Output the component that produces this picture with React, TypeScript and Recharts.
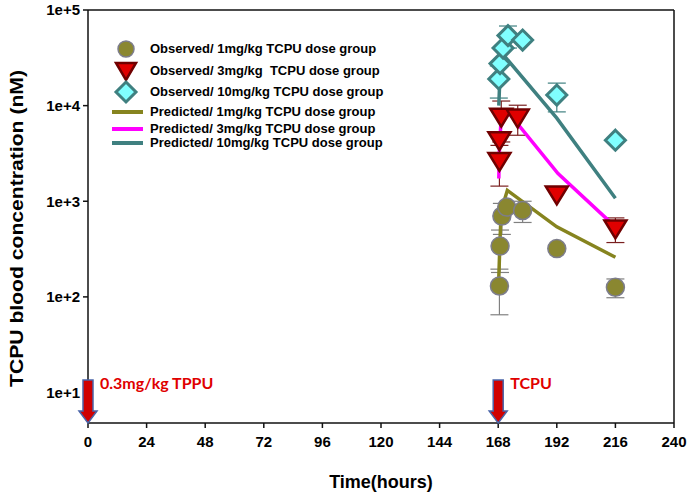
import {
  ComposedChart,
  XAxis,
  YAxis,
  Scatter,
  Line,
  ErrorBar,
  ReferenceLine,
  ReferenceDot,
} from 'recharts';

// axis ticks
const xTicks = [0, 24, 48, 72, 96, 120, 144, 168, 192, 216, 240];
const yTicks = [10, 100, 1000, 10000, 100000];
const yMin = 4.8;

// observed values (nM) with error bars
const obs1Time = [168.5, 168.75, 169.5, 171.5, 178, 192, 216];
const obs1Conc = [130, 340, 700, 870, 800, 320, 126];
const obs1Err = [65, 160, 250, 0, 200, 0, 28];

const obs3Time = [168.5, 168.5, 169.25, 176, 192, 216];
const obs3Conc = [2640, 4350, 7670, 7500, 1180, 520];
const obs3Err = [1200, 0, 3500, 2600, 0, 150];

const obs10Time = [168.25, 168.75, 170, 172, 178, 192, 216];
const obs10Conc = [19000, 27500, 40000, 54000, 48500, 12900, 4350];
const obs10Err = [7000, 0, 0, 14000, 0, 4300, 0];

// model predictions
const pred1Time = [168.25, 168.75, 169.25, 171.75, 192, 216];
const pred1Conc = [160, 400, 800, 1300, 540, 260];
const pred3Time = [168.25, 168.5, 169, 172, 192.5, 216];
const pred3Conc = [1730, 3400, 6000, 8600, 1950, 540];
const pred10Time = [168.25, 168.75, 169.5, 171, 192, 216];
const pred10Conc = [10000, 22000, 30000, 32000, 7400, 1075];

// dosing annotations
const doseTimes = [0, 168];
const doseLabels = ['0.3mg/kg TPPU', 'TCPU'];

const legendNames = [
  'Observed/ 1mg/kg TCPU dose group',
  'Observed/ 3mg/kg  TCPU dose group',
  'Observed/ 10mg/kg TCPU dose group',
  'Predicted/ 1mg/kg TCPU dose group',
  'Predicted/ 3mg/kg TCPU dose group',
  'Predicted/ 10mg/kg TCPU dose group',
];

const OLIVE = '#8a8730';
const OLIVE_LINE = '#86841f';
const MAGENTA = '#ff00ff';
const TEAL = '#3f8080';

const zip = (t: number[], v: number[], e?: number[]) =>
  t.map((x, i) => ({ t: x, v: v[i], e: e ? e[i] : 0 }));

const CircleMark = ({ cx, cy }: any) => (
  <circle cx={cx} cy={cy} r={9} fill={OLIVE} stroke='#7d7d8c' strokeWidth={1.5} />
);
const TriMark = ({ cx, cy }: any) => (
  <path
    d={`M${cx - 11},${cy - 8} L${cx + 11},${cy - 8} L${cx},${cy + 10} Z`}
    fill='#e00000'
    stroke='#700000'
    strokeWidth={2.5}
    strokeLinejoin='miter'
  />
);
const DiamondMark = ({ cx, cy }: any) => (
  <path
    d={`M${cx},${cy - 10} L${cx + 10},${cy} L${cx},${cy + 10} L${cx - 10},${cy} Z`}
    fill='#80ffff'
    stroke={TEAL}
    strokeWidth={3}
  />
);

const DoseArrow = ({ cx, cy, text }: any) => (
  <g>
    <path
      d={`M${cx - 5},${cy - 43} L${cx + 5},${cy - 43} L${cx + 5},${cy - 12} L${cx + 9},${cy - 12} L${cx},${cy} L${cx - 9},${cy - 12} L${cx - 5},${cy - 12} Z`}
      fill='#d00000'
      stroke='#4a64a8'
      strokeWidth={1.5}
    />
    <text x={cx + 12} y={cy - 34} fill='#e00000' fontSize={16} fontWeight='bold' fontFamily='Lato, sans-serif'>
      {text}
    </text>
  </g>
);

const legendMarks = [
  <circle cx={21} cy={10} r={8} fill={OLIVE} stroke='#7d7d8c' strokeWidth={1.5} />,
  <path d='M11,2 L31,2 L21,19 Z' fill='#e00000' stroke='#700000' strokeWidth={2.5} />,
  <path d='M21,0 L31,10 L21,20 L11,10 Z' fill='#80ffff' stroke={TEAL} strokeWidth={3} />,
  <line x1={7} y1={10} x2={38} y2={10} stroke={OLIVE_LINE} strokeWidth={4} />,
  <line x1={7} y1={10} x2={38} y2={10} stroke={MAGENTA} strokeWidth={4} />,
  <line x1={7} y1={10} x2={38} y2={10} stroke={TEAL} strokeWidth={4} />,
];
const rowHeights = [22, 21, 21, 20, 14, 14];

export default function App() {
  const tickStyle = { fontSize: 15, fontWeight: 'bold', fill: '#000' };
  return (
    <div style={{ position: 'relative', width: 690, height: 494, fontFamily: 'Arial, "Liberation Sans", sans-serif', background: '#fff' }}>
      <style>{'body{margin:0}'}</style>
      <ComposedChart width={690} height={494} margin={{ top: 10, right: 16, bottom: 0, left: 0 }}>
        <XAxis
          dataKey='t'
          type='number'
          domain={[0, 240]}
          ticks={xTicks}
          allowDataOverflow
          height={71}
          tick={tickStyle}
          tickSize={5}
          tickMargin={8}
          axisLine={{ stroke: '#111', strokeWidth: 1.5 }}
          tickLine={{ stroke: '#111', strokeWidth: 1.5 }}
          label={({ viewBox }: any) => (
            <text
              x={viewBox.x + viewBox.width / 2}
              y={viewBox.y + viewBox.height - 6}
              textAnchor='middle'
              fontSize={18}
              fontWeight='bold'
              fill='#000'
            >
              Time(hours)
            </text>
          )}
        />
        <YAxis
          dataKey='v'
          type='number'
          scale='log'
          domain={[yMin, 100000]}
          ticks={yTicks}
          allowDataOverflow
          width={88}
          tick={tickStyle}
          tickSize={5}
          tickMargin={3}
          tickFormatter={(v: number) => `1e+${Math.round(Math.log10(v))}`}
          axisLine={{ stroke: '#111', strokeWidth: 1.5 }}
          tickLine={{ stroke: '#111', strokeWidth: 1.5 }}
          label={({ viewBox }: any) => {
            const cy = viewBox.y + viewBox.height / 2 + 12;
            return (
              <text
                x={16}
                y={cy}
                transform={`rotate(-90, 16, ${cy})`}
                textAnchor='middle'
                dominantBaseline='central'
                fontSize={19}
                fontWeight='bold'
                fill='#000'
                textLength={317}
                lengthAdjust='spacingAndGlyphs'
              >
                TCPU blood concentration (nM)
              </text>
            );
          }}
        />
        <ReferenceLine y={100000} stroke='#111' strokeWidth={1.5} />
        <ReferenceLine x={240} stroke='#111' strokeWidth={1.5} />

        <Scatter data={zip(obs1Time, obs1Conc, obs1Err)} dataKey='v' shape={CircleMark} isAnimationActive={false}>
          <ErrorBar dataKey='e' direction='y' width={9} stroke='#808080' strokeWidth={1.2} />
        </Scatter>
        <Scatter data={zip(obs3Time, obs3Conc, obs3Err)} dataKey='v' shape={TriMark} isAnimationActive={false}>
          <ErrorBar dataKey='e' direction='y' width={9} stroke='#7a2020' strokeWidth={1.2} />
        </Scatter>
        <Scatter data={zip(obs10Time, obs10Conc, obs10Err)} dataKey='v' shape={DiamondMark} isAnimationActive={false}>
          <ErrorBar dataKey='e' direction='y' width={9} stroke={TEAL} strokeWidth={1.2} />
        </Scatter>

        <Line data={zip(pred1Time, pred1Conc)} dataKey='v' type='linear' stroke={OLIVE_LINE} strokeWidth={3.5} dot={false} isAnimationActive={false} />
        <Line data={zip(pred3Time, pred3Conc)} dataKey='v' type='linear' stroke={MAGENTA} strokeWidth={3.5} dot={false} isAnimationActive={false} />
        <Line data={zip(pred10Time, pred10Conc)} dataKey='v' type='linear' stroke={TEAL} strokeWidth={3.5} dot={false} isAnimationActive={false} />

        {doseTimes.map((t, i) => (
          <ReferenceDot
            key={t}
            x={t}
            y={yMin}
            r={0}
            ifOverflow='visible'
            shape={(p: any) => <DoseArrow cx={p.cx} cy={p.cy} text={doseLabels[i]} />}
          />
        ))}
      </ComposedChart>

      <div style={{ position: 'absolute', left: 105, top: 38 }}>
        {legendNames.map((name, i) => (
          <div key={name} style={{ display: 'flex', alignItems: 'center', height: rowHeights[i] }}>
            <svg width={45} height={20} style={{ overflow: 'visible' }}>
              {legendMarks[i]}
            </svg>
            <span style={{ fontSize: 13, fontWeight: 'bold', color: '#000', whiteSpace: 'pre', lineHeight: '14px' }}>{name}</span>
          </div>
        ))}
      </div>
    </div>
  );
}
